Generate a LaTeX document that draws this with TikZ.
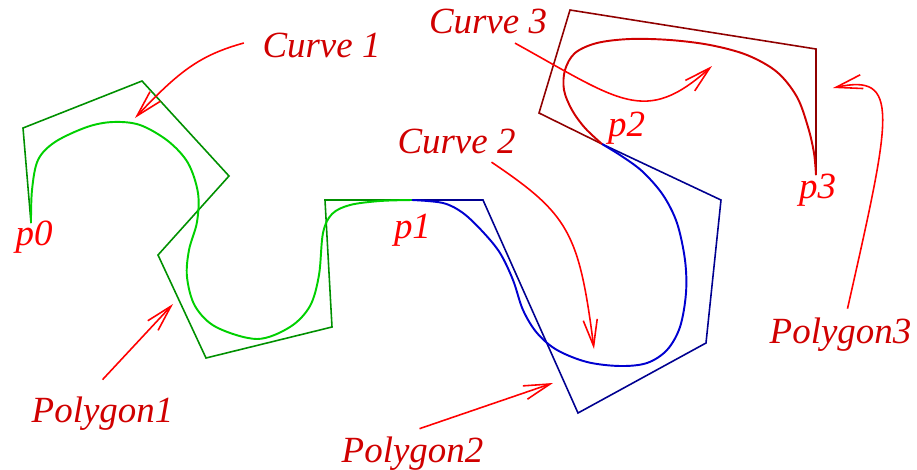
\documentclass[tikz,border=0pt]{standalone}
\usepackage{fontspec}
\setmainfont{Liberation Serif}
\usepackage{xcolor}
\usepackage{tikz}
\usetikzlibrary{arrows.meta, calc}
\definecolor{polyonecol}{RGB}{0,144,0}
\definecolor{curveonecol}{RGB}{0,208,0}
\definecolor{polytwocol}{RGB}{0,0,144}
\definecolor{curvetwocol}{RGB}{0,0,208}
\definecolor{polythreecol}{RGB}{144,0,0}
\definecolor{curvethreecol}{RGB}{208,0,0}
\definecolor{tagcol}{RGB}{208,0,0}
\definecolor{arrowcol}{RGB}{255,0,0}

\begin{document}
\begin{tikzpicture}[
  x=0.01cm, y=-0.01cm,
  font=\fontsize{10.5}{12}\selectfont\itshape,
  ctrl/.style={line width=0.45pt, line join=miter},
  spline/.style={line width=0.55pt, smooth, tension=0.55},
  tag/.style={text=tagcol, inner sep=0pt, anchor=base},
  ptname/.style={text=arrowcol, inner sep=0pt, anchor=base},
  pointer/.style={draw=arrowcol, line width=0.45pt,
                  -{Straight Barb[length=7.5pt,width=4pt]}}
]
  \useasboundingbox (0,0) rectangle (917,469);

  \coordinate (p0) at (31,223);
  \coordinate (p1) at (412,200);
  \coordinate (p2) at (602,144);
  \coordinate (p3) at (816,175);

  % control polygons
  \draw[ctrl, polyonecol] (p0) -- (23,128) -- (142,81) -- (229,176) -- (158,255)
    -- (206,358) -- (332,327) -- (325,200) -- (p1);
  \draw[ctrl, polytwocol] (p1) -- (483,200) -- (578,413) -- (706,343) -- (721,200) -- (p2);
  \draw[ctrl, polythreecol] (p2) -- (539,113) -- (570,10) -- (816,49) -- (p3);

  % curves
  \draw[spline, curveonecol] plot coordinates {(31,223) (32,190) (38,160) (55,142)
    (87,127) (113,122) (140,125) (168,141) (188,163) (198,193) (197,222) (189,250)
    (187,277) (195,306) (216,327) (257,339) (290,327) (310,306) (319,275) (323,233)
    (332,214) (350,205) (380,201) (412,200)};
  \draw[spline, curvetwocol] plot coordinates {(412,200) (443,203) (463,213) (483,232)
    (500,253) (513,280) (523,310) (537,333) (557,350) (587,362) (620,366) (647,363)
    (667,350) (680,327) (686,293) (685,260) (677,223) (663,195) (643,172) (623,157)
    (602,144)};
  \draw[spline, curvethreecol] plot coordinates {(602,144) (585,128) (572,110) (564,90)
    (565,70) (575,53) (597,43) (630,39) (670,40) (710,45) (747,55) (777,72) (797,97)
    (808,127) (814,153) (816,175)};

  % point names
  \node[ptname] (n0) at (34,245) {p0};
  \node[ptname] (n1) at (412.5,238) {p1};
  \node[ptname] (n2) at (626.5,136) {p2};
  \node[ptname] (n3) at (817.5,198) {p3};

  % tags
  \node[tag] (lc1) at (321.5,57) {Curve 1};
  \node[tag] (lc2) at (456.5,153) {Curve 2};
  \node[tag] (lc3) at (488,33) {Curve 3};
  \node[tag] (lp1) at (102.5,422) {Polygon1};
  \node[tag] (lp2) at (412.5,462) {Polygon2};
  \node[tag] (lp3) at (840.5,343) {Polygon3};

  \coordinate (tc1) at (135,118);
  \coordinate (tc2) at (594,349);
  \coordinate (tc3) at (712,66);
  \coordinate (tp1) at (173,304);
  \coordinate (tp2) at (553,383);
  \coordinate (tp3) at (833,88);

  % pointers
  \draw[pointer] ($(lc1.west)+(-18,-2)$) .. controls +(-43,12) and +(45,-48) .. (tc1);
  \draw[pointer] ($(lc2.south)+(35,8)$) .. controls +(77,52) and +(-15,-117) .. (tc2);
  \draw[pointer] ($(lc3.south)+(27,9)$) .. controls +(105,58) and +(-67,60) .. (tc3);
  \draw[pointer] ($(lp1.north)+(0,-16)$) -- (tp1);
  \draw[pointer] ($(lp2.north)+(7,-7)$) -- (tp2);
  \draw[pointer] ($(lp3.north)+(7,-8)$) .. controls +(44,-195) and +(68,-15) .. (tp3);
\end{tikzpicture}
\end{document}
